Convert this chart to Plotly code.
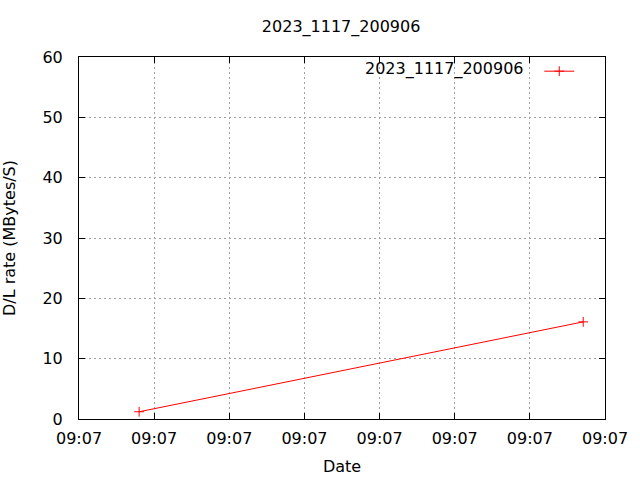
import plotly.graph_objects as go

title_text = "2023_1117_200906"
series_name = "2023_1117_200906"
times = ["2023-11-17 09:07:00.80", "2023-11-17 09:07:06.71"]
rates = [1.2, 16.1]
x_range = ["2023-11-17 09:07:00", "2023-11-17 09:07:07"]
y_range = [0, 60]

FONT = "DejaVu Sans"
FS = 16

fig = go.Figure()
fig.add_trace(go.Scatter(
    x=times, y=rates, mode="lines+markers", name=" ",
    line=dict(color="#ff0000", width=1),
    marker=dict(symbol="cross-thin-open", size=7, color="#ff0000",
                line=dict(color="#ff0000", width=1)),
    showlegend=True,
))

fig.update_layout(
    width=640, height=480,
    margin=dict(l=79, r=35, t=57, b=61, autoexpand=False),
    paper_bgcolor="white", plot_bgcolor="white",
    font=dict(family=FONT, size=FS, color="black"),
    title=dict(text=title_text, x=0.533, xanchor="center", y=0.944, yanchor="middle",
               font=dict(family=FONT, size=FS, color="black")),
    showlegend=True,
    legend=dict(x=0.875, xanchor="left", y=1.0075, yanchor="top",
                bgcolor="rgba(0,0,0,0)", font=dict(size=FS),
                itemwidth=30),
    annotations=[dict(text=series_name, xref="paper", yref="paper",
                      x=0.8498, xanchor="right", y=0.9655, yanchor="middle",
                      showarrow=False, font=dict(family=FONT, size=FS, color="black"))],
)

fig.update_xaxes(
    type="date", range=x_range, dtick=1000, tickformat="%H:%M",
    showline=True, linecolor="black", linewidth=1, mirror="ticks",
    ticks="inside", ticklen=6, tickcolor="black", ticklabelstandoff=5,
    showgrid=True, gridcolor="#a0a0a0", griddash="2px,3px", gridwidth=1,
    zeroline=False, automargin=False,
    title=dict(text="Date", standoff=13, font=dict(family=FONT, size=FS)),
)
fig.update_yaxes(
    range=y_range, dtick=10,
    showline=True, linecolor="black", linewidth=1, mirror="ticks",
    ticks="inside", ticklen=6, tickcolor="black", ticklabelstandoff=12,
    showgrid=True, gridcolor="#a0a0a0", griddash="2px,3px", gridwidth=1,
    zeroline=False, automargin=False,
    title=dict(text="D/L rate (MBytes/S)", standoff=32, font=dict(family=FONT, size=FS)),
)

fig.write_html("out.html", config={"displayModeBar": False},
               post_script="document.body.style.margin='0';")
